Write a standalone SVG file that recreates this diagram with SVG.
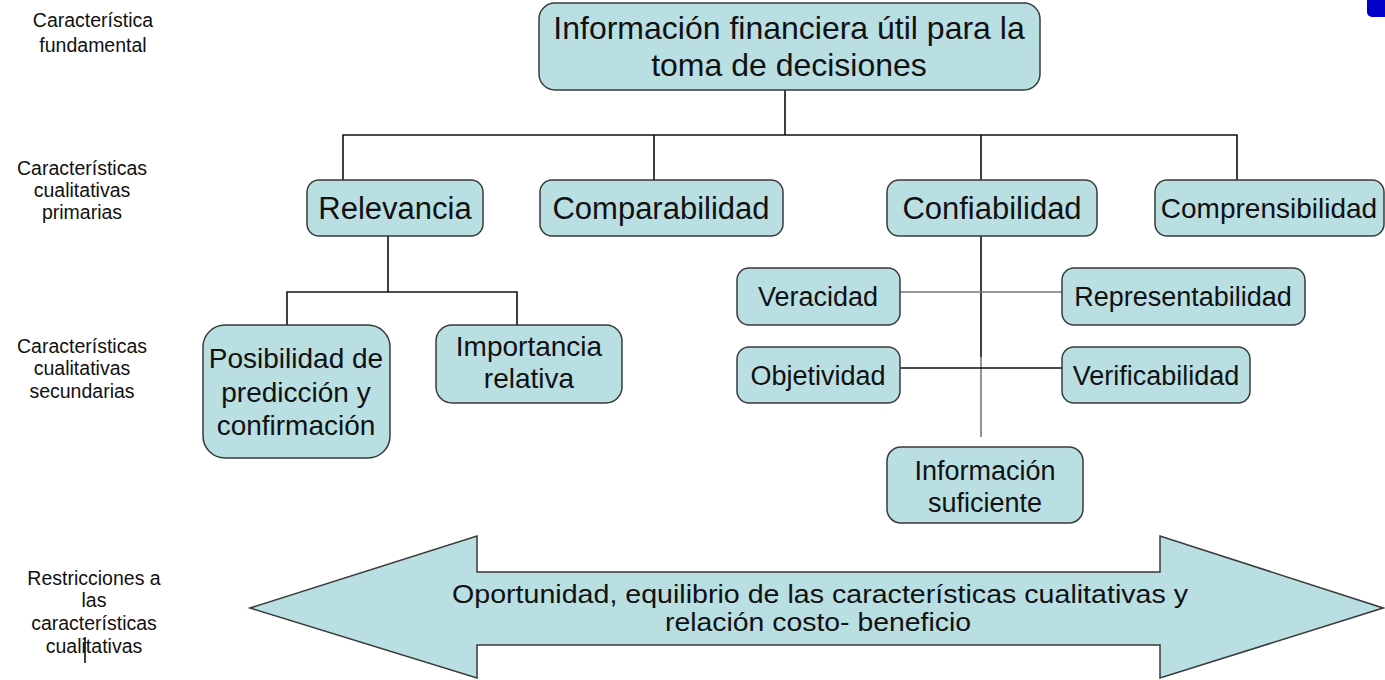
<svg xmlns="http://www.w3.org/2000/svg" width="1385" height="680" viewBox="0 0 1385 680">
<style>
.box{fill:#b9dfe3;stroke:#3a3a3a;stroke-width:1.5}
.t{font-family:"Liberation Sans",Arial,sans-serif;fill:#111;text-anchor:middle}
.lbl{font-family:"Liberation Sans",Arial,sans-serif;fill:#111;text-anchor:middle;font-size:19.5px}
.c{stroke:#111;stroke-width:1.6;fill:none}
.g{stroke:#777;stroke-width:1.6;fill:none}
</style>
<rect width="1385" height="680" fill="#fff"/>
<g id="labels">
<text class="lbl" x="93" y="27">Característica</text>
<text class="lbl" x="93" y="52">fundamental</text>
<text class="lbl" x="82" y="175">Características</text>
<text class="lbl" x="82" y="197">cualitativas</text>
<text class="lbl" x="82" y="219">primarias</text>
<text class="lbl" x="82" y="353">Características</text>
<text class="lbl" x="82" y="375">cualitativas</text>
<text class="lbl" x="82" y="398">secundarias</text>
<text class="lbl" x="94" y="585">Restricciones a</text>
<text class="lbl" x="94" y="607">las</text>
<text class="lbl" x="94" y="630">características</text>
<text class="lbl" x="94" y="653">cualitativas</text>
<line x1="85" y1="637" x2="85" y2="663" stroke="#000" stroke-width="1.5"/>
</g>
<g id="connectors">
<path class="c" d="M785 90V135M343 180V135H1237V180M654 135V180M981 135V180"/>
<path class="c" d="M388 236V292M287 325V292H517V325"/>
<path class="c" d="M981 236V357"/>
<path class="g" d="M981 357V437"/>
<path class="g" d="M900 292H1062"/>
<path class="c" d="M900 368H1062"/>
</g>
<g id="n-top">
<rect class="box" x="539" y="3" width="501" height="87" rx="16"/>
<text class="t" x="789" y="39" font-size="32">Información financiera útil para la</text>
<text class="t" x="789" y="76" font-size="32">toma de decisiones</text>
</g>
<g id="n-relevancia">
<rect class="box" x="307" y="180" width="176" height="56" rx="12"/>
<text class="t" x="395" y="219" font-size="31">Relevancia</text>
</g>
<g id="n-comparabilidad">
<rect class="box" x="540" y="180" width="243" height="56" rx="12"/>
<text class="t" x="661" y="219" font-size="31">Comparabilidad</text>
</g>
<g id="n-confiabilidad">
<rect class="box" x="887" y="180" width="210" height="56" rx="12"/>
<text class="t" x="992" y="219" font-size="31">Confiabilidad</text>
</g>
<g id="n-comprensibilidad">
<rect class="box" x="1155" y="180" width="229" height="56" rx="12"/>
<text class="t" x="1269" y="218" font-size="28">Comprensibilidad</text>
</g>
<g id="n-posibilidad">
<rect class="box" x="203" y="325" width="187" height="133" rx="22"/>
<text class="t" x="296" y="368" font-size="28">Posibilidad de</text>
<text class="t" x="296" y="402" font-size="28">predicción y</text>
<text class="t" x="296" y="435" font-size="28">confirmación</text>
</g>
<g id="n-importancia">
<rect class="box" x="436" y="325" width="186" height="78" rx="16"/>
<text class="t" x="529" y="356" font-size="28">Importancia</text>
<text class="t" x="529" y="388" font-size="28">relativa</text>
</g>
<g id="n-veracidad">
<rect class="box" x="737" y="268" width="163" height="57" rx="12"/>
<text class="t" x="818" y="306" font-size="27">Veracidad</text>
</g>
<g id="n-representabilidad">
<rect class="box" x="1062" y="268" width="243" height="57" rx="12"/>
<text class="t" x="1183" y="306" font-size="27">Representabilidad</text>
</g>
<g id="n-objetividad">
<rect class="box" x="737" y="347" width="163" height="56" rx="12"/>
<text class="t" x="818" y="385" font-size="27">Objetividad</text>
</g>
<g id="n-verificabilidad">
<rect class="box" x="1062" y="347" width="188" height="56" rx="12"/>
<text class="t" x="1156" y="385" font-size="27">Verificabilidad</text>
</g>
<g id="n-suficiente">
<rect class="box" x="887" y="447" width="196" height="76" rx="14"/>
<text class="t" x="985" y="480" font-size="27">Información</text>
<text class="t" x="985" y="512" font-size="27">suficiente</text>
</g>
<g id="n-restricciones">
<polygon class="box" points="250,608 477,536 477,572 1160,572 1160,536 1383,608 1160,678 1160,645 477,645 477,678" stroke-dasharray="none"/>
<text class="t" x="820" y="603" font-size="26" textLength="736" lengthAdjust="spacingAndGlyphs">Oportunidad, equilibrio de las características cualitativas y</text>
<text class="t" x="818" y="631" font-size="26" textLength="306" lengthAdjust="spacingAndGlyphs">relación costo- beneficio</text>
</g>
<g id="corner">
<rect x="1367" y="-10" width="30" height="27" rx="5" fill="#0000c8"/>
</g>
</svg>
